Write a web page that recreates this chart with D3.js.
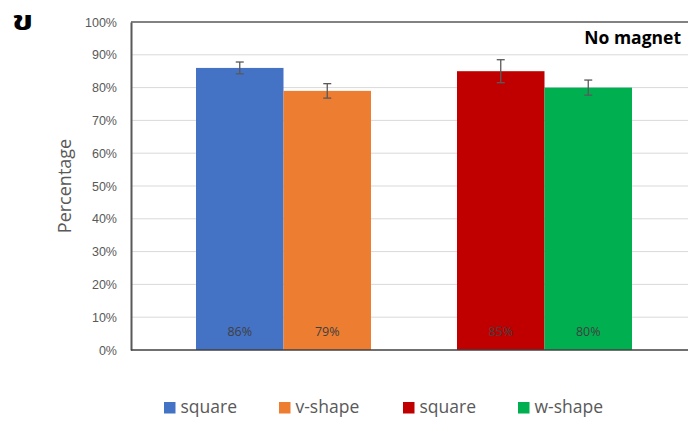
<!DOCTYPE html>
<html>
<head>
<meta charset="utf-8">
<script src="https://cdn.jsdelivr.net/npm/d3@7"></script>
<style>
  html, body { margin: 0; padding: 0; background: #fff; }
  svg { display: block; font-family: "Open Sans", "Noto Sans", sans-serif; }
</style>
</head>
<body>
<svg id="chart" width="688" height="421"></svg>
<script>
// Two groups of bars, two series each
const groups = ["g1", "g2"];
const seriesNames = [["square", "v-shape"], ["square", "w-shape"]];
const values = [[86, 79], [85, 80]];
const errors = [[1.8, 2.2], [3.5, 2.3]];
const colors = [["#4472C4", "#ED7D31"], ["#C00000", "#00B050"]];
const yTicks = [0, 10, 20, 30, 40, 50, 60, 70, 80, 90, 100];

const svg = d3.select("#chart");
const plot = { left: 131, right: 688, top: 22, bottom: 350 };

const y = d3.scaleLinear().domain([0, 100]).range([plot.bottom, plot.top]);
const x = d3.scaleBand().domain(groups).range([110, 718]).paddingInner(0.3295).paddingOuter(0.3295);
const xs = d3.scaleBand().domain([0, 1]).range([0, x.bandwidth()]);

// gridlines
svg.append("g")
  .selectAll("line").data(yTicks.filter(t => t > 0 && t < 100)).join("line")
  .attr("x1", plot.left).attr("x2", plot.right)
  .attr("y1", d => y(d)).attr("y2", d => y(d))
  .attr("stroke", "#d9d9d9").attr("stroke-width", 1);

// top frame line
svg.append("line")
  .attr("x1", plot.left).attr("x2", plot.right)
  .attr("y1", y(100)).attr("y2", y(100))
  .attr("stroke", "#595959").attr("stroke-width", 1.5);

// y axis
const yAxis = d3.axisLeft(y).tickValues(yTicks).tickFormat(d => d + "%").tickSize(0).tickPadding(14);
const gy = svg.append("g").attr("transform", `translate(${plot.left},0)`).call(yAxis);
gy.select(".domain").attr("stroke", "#595959").attr("stroke-width", 2);
gy.selectAll("text").attr("fill", "#595959").attr("font-size", 12.5);

// bars
const flat = [];
groups.forEach((g, gi) => values[gi].forEach((v, si) => flat.push({ g, gi, si, v, e: errors[gi][si], c: colors[gi][si] })));

svg.append("g").selectAll("rect").data(flat).join("rect")
  .attr("x", d => x(d.g) + xs(d.si))
  .attr("width", xs.bandwidth())
  .attr("y", d => y(d.v))
  .attr("height", d => y(0) - y(d.v))
  .attr("fill", d => d.c);

// x axis line
svg.append("line")
  .attr("x1", plot.left).attr("x2", plot.right)
  .attr("y1", y(0)).attr("y2", y(0))
  .attr("stroke", "#404040").attr("stroke-width", 1.5);

// error bars
const eb = svg.append("g").attr("stroke", "#595959").attr("stroke-width", 1.3);
flat.forEach(d => {
  const cx = x(d.g) + xs(d.si) + xs.bandwidth() / 2;
  eb.append("line").attr("x1", cx).attr("x2", cx).attr("y1", y(d.v + d.e)).attr("y2", y(d.v - d.e));
  eb.append("line").attr("x1", cx - 4).attr("x2", cx + 4).attr("y1", y(d.v + d.e)).attr("y2", y(d.v + d.e));
  eb.append("line").attr("x1", cx - 4).attr("x2", cx + 4).attr("y1", y(d.v - d.e)).attr("y2", y(d.v - d.e));
});

// value labels
svg.append("g").selectAll("text").data(flat).join("text")
  .attr("x", d => x(d.g) + xs(d.si) + xs.bandwidth() / 2)
  .attr("y", 336)
  .attr("text-anchor", "middle")
  .attr("font-size", 12.5)
  .attr("fill", "#404040")
  .text(d => d.v + "%");

// y axis title
svg.append("text")
  .attr("transform", "translate(71,186) rotate(-90)")
  .attr("text-anchor", "middle")
  .attr("font-size", 18)
  .attr("fill", "#595959")
  .text("Percentage");

// panel title
svg.append("text")
  .attr("x", 681).attr("y", 44)
  .attr("text-anchor", "end")
  .attr("font-size", 17.5).attr("font-weight", "bold")
  .attr("fill", "#000")
  .text("No magnet");

// panel letter
svg.append("text")
  .attr("transform", "translate(12,30) scale(1.5,1.1)")
  .attr("font-size", 24).attr("font-weight", "bold")
  .attr("font-family", "Tahoma, 'Noto Sans Thai', 'Noto Serif Thai', serif")
  .attr("fill", "#000")
  .text("ข");

// legend
const legendItems = [];
seriesNames.forEach((arr, gi) => arr.forEach((n, si) => legendItems.push({ n, c: colors[gi][si] })));
const legendX = [164, 279, 403, 518];
const lg = svg.append("g");
legendItems.forEach((d, i) => {
  lg.append("rect").attr("x", legendX[i]).attr("y", 402).attr("width", 11.5).attr("height", 11.5).attr("fill", d.c);
  lg.append("text").attr("x", legendX[i] + 16.5).attr("y", 413)
    .attr("font-size", 17.5).attr("fill", "#595959").text(d.n);
});
</script>
</body>
</html>
